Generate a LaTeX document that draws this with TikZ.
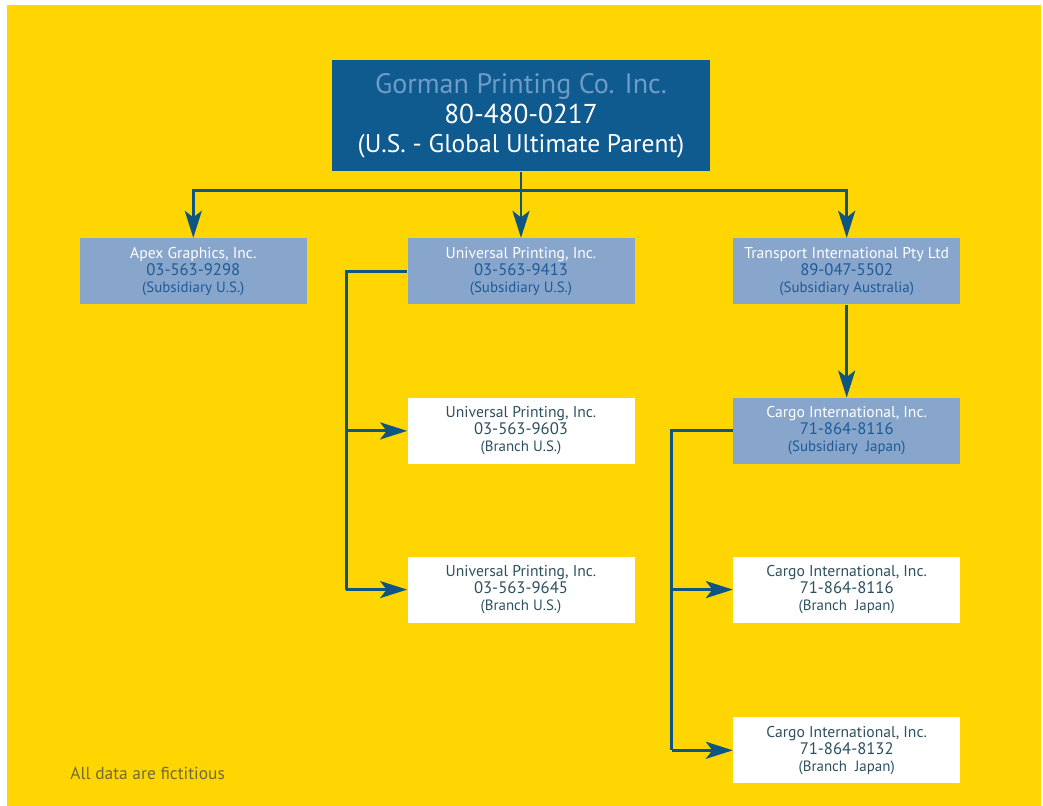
\documentclass[tikz,border=0pt]{standalone}
\usepackage{fontspec}
\setmainfont{PT Sans}
\usetikzlibrary{arrows.meta, positioning}

\definecolor{pageyellow}{HTML}{FFD502}
\definecolor{parentblue}{HTML}{0F5A8E}
\definecolor{parentname}{HTML}{6E9BC8}
\definecolor{subfill}{HTML}{88A6CC}
\definecolor{subnumber}{HTML}{1E5A96}
\definecolor{branchtext}{HTML}{2D5060}
\definecolor{linkblue}{HTML}{0F5582}
\definecolor{notetext}{HTML}{6E6C3A}

\begin{document}
\begin{tikzpicture}[
    node distance={20mm},
    parent/.style={fill=parentblue, text=white, align=center, inner sep=0pt,
        minimum width=75.6mm, minimum height=22.2mm,
        font=\fontsize{14.5}{16.7}\selectfont},
    subsidiary/.style={fill=subfill, text=subnumber, align=center, inner sep=0pt,
        minimum width=45.4mm, minimum height=13.2mm,
        font=\fontsize{8.9}{9.7}\selectfont},
    branch/.style={subsidiary, fill=white, text=branchtext},
    link/.style={draw=linkblue, line width=1.7pt,
        -{Stealth[length=5.4mm, width=3.4mm, inset=1.3mm]}},
    trunk/.style={draw=linkblue, line width=1.7pt}
]

\useasboundingbox (0,0) rectangle (20.86,-16.12);
\fill[white] (0,0) rectangle (20.86,-16.12);
\fill[pageyellow] (0.14,-0.10) rectangle (20.82,-16.12);

\node[parent] (gorman) at (10.42,-2.32)
    {{\color{parentname}\fontsize{16}{16.7}\selectfont Gorman Printing Co. Inc.}\\ {\fontsize{15.5}{16.7}\selectfont 80-480-0217}\\ (U.S. - Global Ultimate Parent)};

\node[subsidiary, below=13.2mm of gorman] (universal)
    {{\color{white}Universal Printing, Inc.}\\ {\fontsize{9.5}{9.7}\selectfont 03-563-9413}\\ {\fontsize{8.5}{9.7}\selectfont (Subsidiary U.S.)}};
\node[subsidiary, left=of universal] (apex)
    {{\color{white}Apex Graphics, Inc.}\\ {\fontsize{9.5}{9.7}\selectfont 03-563-9298}\\ {\fontsize{8.5}{9.7}\selectfont (Subsidiary U.S.)}};
\node[subsidiary, right=19.6mm of universal] (transport)
    {{\color{white}Transport International Pty Ltd}\\ {\fontsize{9.5}{9.7}\selectfont 89-047-5502}\\ {\fontsize{8.5}{9.7}\selectfont (Subsidiary Australia)}};

\node[branch, below=18.6mm of universal] (upbranch1)
    {Universal Printing, Inc.\\ {\fontsize{9.5}{9.7}\selectfont 03-563-9603}\\ {\fontsize{8.5}{9.7}\selectfont (Branch U.S.)}};
\node[branch, below=18.4mm of upbranch1] (upbranch2)
    {Universal Printing, Inc.\\ {\fontsize{9.5}{9.7}\selectfont 03-563-9645}\\ {\fontsize{8.5}{9.7}\selectfont (Branch U.S.)}};

\node[subsidiary, right=19.6mm of upbranch1] (cargo)
    {{\color{white}Cargo International, Inc.}\\ {\fontsize{9.5}{9.7}\selectfont 71-864-8116}\\ {\fontsize{8.5}{9.7}\selectfont (Subsidiary\ \ Japan)}};
\node[branch, right=19.6mm of upbranch2] (cargobranch1)
    {Cargo International, Inc.\\ {\fontsize{9.5}{9.7}\selectfont 71-864-8116}\\ {\fontsize{8.5}{9.7}\selectfont (Branch\ \ Japan)}};
\node[branch, below=18.8mm of cargobranch1] (cargobranch2)
    {Cargo International, Inc.\\ {\fontsize{9.5}{9.7}\selectfont 71-864-8132}\\ {\fontsize{8.5}{9.7}\selectfont (Branch\ \ Japan)}};

\node[anchor=west, inner sep=0pt, text=notetext, font=\fontsize{9.9}{11}\selectfont] (note) at (1.40,-15.46)
    {All data are fictitious};

\draw[link] (gorman.south) -- ++(0,-0.38) -| (apex.north);
\draw[link] (gorman.south) -- (gorman.south |- universal.north);
\draw[link] (gorman.south) -- ++(0,-0.38) -| (transport.north);

\draw[trunk] (universal.west) -- ++(-1.22,0) coordinate (uptrunk) -- (uptrunk |- upbranch2.west);
\draw[link] (uptrunk |- upbranch1.west) -- (upbranch1.west);
\draw[link] (uptrunk |- upbranch2.west) -- (upbranch2.west);

\draw[link] (transport) -- (cargo);

\draw[trunk] (cargo.west) -- ++(-1.22,0) coordinate (cargotrunk) -- (cargotrunk |- cargobranch2.west);
\draw[link] (cargotrunk |- cargobranch1.west) -- (cargobranch1.west);
\draw[link] (cargotrunk |- cargobranch2.west) -- (cargobranch2.west);

\end{tikzpicture}
\end{document}
